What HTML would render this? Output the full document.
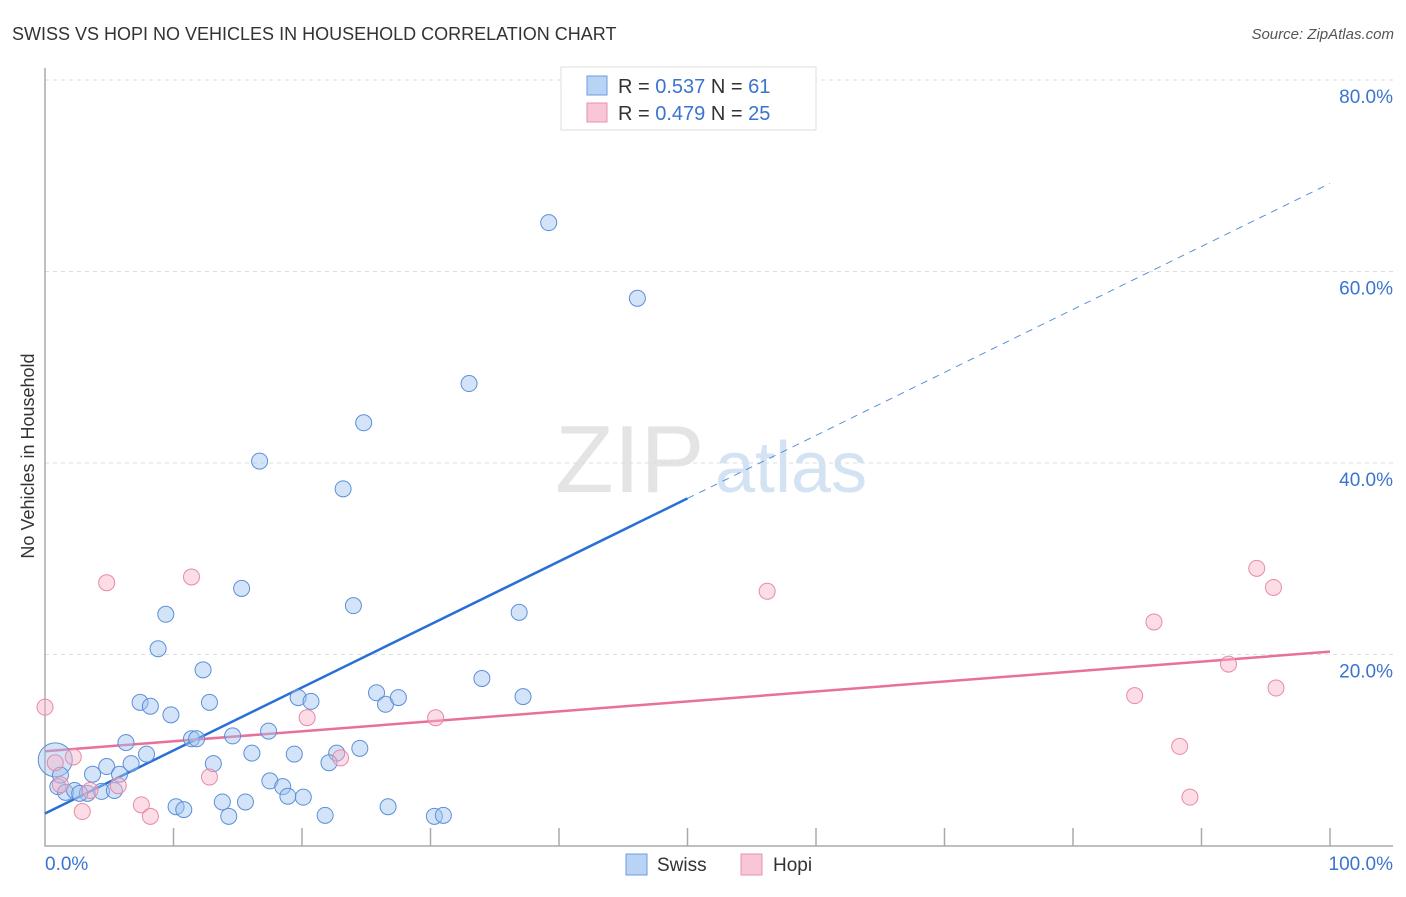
<!DOCTYPE html>
<html><head><meta charset="utf-8"><style>
body{margin:0;background:#fff;font-family:"Liberation Sans",sans-serif;}
svg text{font-family:"Liberation Sans",sans-serif;}
</style></head><body>
<svg id="chart" width="1406" height="892" xmlns="http://www.w3.org/2000/svg">
<text x="12" y="40" font-size="18" fill="#333">SWISS VS HOPI NO VEHICLES IN HOUSEHOLD CORRELATION CHART</text>
<text x="1394" y="39" font-size="15" fill="#555" font-style="italic" text-anchor="end">Source: ZipAtlas.com</text>
<g>
<text x="555" y="492" font-size="96" font-family="Liberation Serif,serif" fill="#e4e4e4">ZIP</text>
<text x="715" y="492" font-size="72" fill="#d4e3f4">atlas</text>
</g>
<g id="grid"></g>
<g id="axes"></g>
<text transform="translate(34,456) rotate(-90)" font-size="18" fill="#333" text-anchor="middle">No Vehicles in Household</text>
<g id="lines"></g>
<g id="points"></g>
<g>
<rect x="561" y="67" width="255" height="63" fill="#fff" stroke="#ddd"/>
<rect x="587" y="76" width="20" height="19" fill="#b8d3f4" stroke="#6b9ee0"/>
<rect x="587" y="103" width="20" height="19" fill="#f9c6d5" stroke="#e890ad"/>
<text x="618" y="93" font-size="20" fill="#333">R = <tspan fill="#3a74d0">0.537</tspan>   N = <tspan fill="#3a74d0"> 61</tspan></text>
<text x="618" y="120" font-size="20" fill="#333">R = <tspan fill="#3a74d0">0.479</tspan>   N = <tspan fill="#3a74d0"> 25</tspan></text>
</g>
<g>
<rect x="626" y="854" width="21" height="21" fill="#b8d3f4" stroke="#6b9ee0"/>
<text x="657" y="871" font-size="19" fill="#333">Swiss</text>
<rect x="741" y="854" width="21" height="21" fill="#f9c6d5" stroke="#e890ad"/>
<text x="773" y="871" font-size="19" fill="#333">Hopi</text>
</g>
</svg>
<script>
const swissX=[39.2,46.1,33.0,24.8,16.7,23.2,15.3,24.0,36.9,9.4,8.8,12.3,7.4,8.2,12.8,9.8,19.7,20.7,25.8,26.5,27.5,34.0,37.2,17.4,14.6,11.4,11.8,6.3,7.9,16.1,19.4,22.7,24.5,22.1,13.1,6.7,4.8,3.7,5.8,0.8,1.0,1.6,2.3,3.3,4.4,5.4,17.5,18.5,18.9,20.1,13.8,15.6,10.2,10.8,14.3,21.8,26.7,30.3,31.0,1.2,2.7];
const swissY=[65.1,57.2,48.3,44.2,40.2,37.3,26.9,25.1,24.4,24.2,20.6,18.4,15.0,14.6,15.0,13.7,15.5,15.1,16.0,14.8,15.5,17.5,15.6,12.0,11.5,11.2,11.2,10.8,9.6,9.7,9.6,9.7,10.2,8.7,8.6,8.6,8.3,7.5,7.5,9.0,6.2,5.6,5.8,5.5,5.7,5.8,6.8,6.2,5.2,5.1,4.6,4.6,4.1,3.8,3.1,3.2,4.1,3.1,3.2,7.4,5.5];
const hopiX=[0,4.8,11.4,56.2,94.3,95.6,86.3,92.1,95.8,84.8,88.3,89.1,20.4,30.4,12.8,2.2,0.8,1.2,5.7,7.5,8.2,2.9,23.0,3.5];
const hopiY=[14.5,27.5,28.1,26.6,29.0,27.0,23.4,19.0,16.5,15.7,10.4,5.1,13.4,13.4,7.2,9.3,8.7,6.4,6.3,4.3,3.1,3.6,9.2,5.8];
const swissTrend=[3.4,69.2];
const hopiTrend=[9.9,20.3];
const yTicks=[20,40,60,80];
const xTickLabels=["0.0%","100.0%"];
const NS="http://www.w3.org/2000/svg";
const X=v=>45+v*12.85, Y=v=>846-v*9.575;
function mk(tag,attrs,parent){const e=document.createElementNS(NS,tag);for(const k in attrs)e.setAttribute(k,attrs[k]);document.getElementById(parent).appendChild(e);return e;}
yTicks.forEach(t=>{
 const g=mk('line',{x1:45,x2:1393,y1:Y(t),y2:Y(t),stroke:'#ddd','stroke-dasharray':'4,4'},'grid');
 
 
 const l=mk('text',{x:1393,y:Y(t)+23,'font-size':19,fill:'#3a74d0','text-anchor':'end'},'grid');
 l.textContent=t.toFixed(1)+'%';
 
 
});
const ax=mk('path',{d:'M45,68 V846 H1393',fill:'none',stroke:'#aaa','stroke-width':1.5},'axes');


for(let i=1;i<=10;i++){
 const t=mk('line',{x1:X(i*10),x2:X(i*10),y1:828,y2:846,stroke:'#aaa','stroke-width':1.5},'axes');
 
 
}
const xl0=mk('text',{x:45,y:870,'font-size':19,fill:'#3a74d0'},'axes');xl0.textContent=xTickLabels[0];


const xl1=mk('text',{x:1393,y:870,'font-size':19,fill:'#3a74d0','text-anchor':'end'},'axes');xl1.textContent=xTickLabels[1];


// points
const sw=v=>'';
swissX.forEach((x,i)=>{
 const big=(i===39);
 const c=mk('circle',{cx:X(x),cy:Y(swissY[i]),r:big?17:8,fill:'rgba(160,196,240,0.45)',stroke:'#5b8fd8','stroke-width':1},'points');
 
 
});
hopiX.forEach((x,i)=>{
 const c=mk('circle',{cx:X(x),cy:Y(hopiY[i]),r:8,fill:'rgba(248,180,200,0.45)',stroke:'#e88aa8','stroke-width':1},'points');
 
 
});
// trend lines
const s0=swissTrend[0], s1=swissTrend[1], sm=s0+(s1-s0)*0.5;
const ls=mk('line',{x1:X(0),y1:Y(s0),x2:X(50),y2:Y(sm),stroke:'#2a6fd6','stroke-width':2.5},'lines');


const ld=mk('line',{x1:X(50),y1:Y(sm),x2:X(100),y2:Y(s1),stroke:'#5b8fd8','stroke-width':1,'stroke-dasharray':'7,6'},'lines');


const lh=mk('line',{x1:X(0),y1:Y(hopiTrend[0]),x2:X(100),y2:Y(hopiTrend[1]),stroke:'#e8709a','stroke-width':2.5},'lines');


</script>
</body></html>
